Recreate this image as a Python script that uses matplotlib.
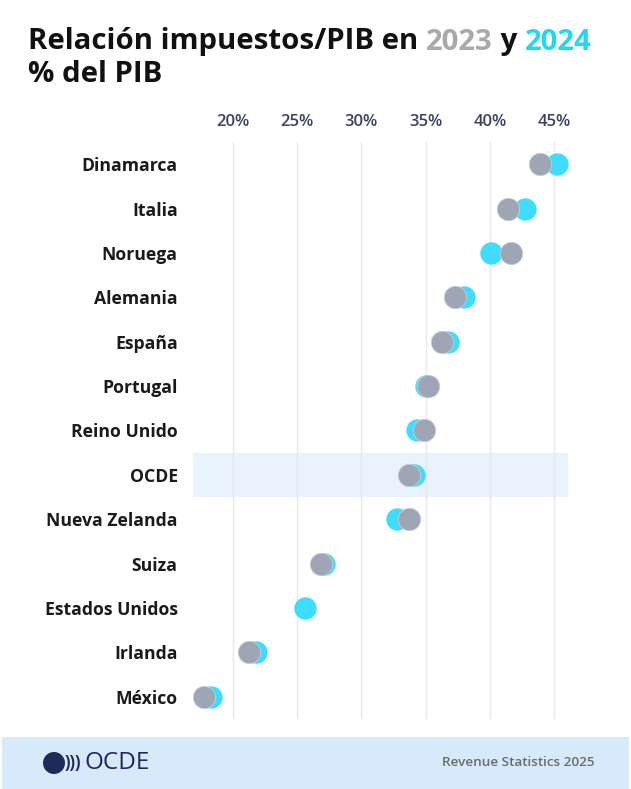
import numpy as np
import matplotlib
matplotlib.use("Agg")
import matplotlib.pyplot as plt
from matplotlib.patches import Ellipse, Rectangle

countries = ["Dinamarca", "Italia", "Noruega", "Alemania", "España", "Portugal",
             "Reino Unido", "OCDE", "Nueva Zelanda", "Suiza", "Estados Unidos",
             "Irlanda", "México"]
val_2023 = [43.9, 41.4, 41.6, 37.3, 36.3, 35.2, 34.9, 33.7, 33.7, 26.9, np.nan, 21.3, 17.8]
val_2024 = [45.2, 42.7, 40.1, 38.0, 36.7, 35.0, 34.3, 34.1, 32.8, 27.1, 25.6, 21.8, 18.3]
ticks = [20, 25, 30, 35, 40, 45]
tick_labels = ["20%", "25%", "30%", "35%", "40%", "45%"]

GREY = "#9ea6b6"
CYAN = "#3edcfd"
W, H = 631, 789

plt.rcParams["font.family"] = ["Open Sans", "DejaVu Sans"]

fig = plt.figure(figsize=(W / 100, H / 100), dpi=100)
fig.patch.set_facecolor("white")

ax = fig.add_axes([193 / W, 1 - 719 / H, (568 - 193) / W, (719 - 142) / H])
ax.set_facecolor("none")
y = np.arange(len(countries))

ax.axhspan(6.5, 7.5, color="#e8f3fd", zorder=0, lw=0)
for t in ticks:
    ax.axvline(t, color="#e6e8ec", lw=1, zorder=1)

ax.scatter(val_2024, y, s=260, color=CYAN, zorder=3, lw=0)
ax.scatter(val_2023, y, s=260, color=GREY, zorder=4, lw=0.6, edgecolors="#c9ced8")

ax.set_xlim(16.92, 46.06)
ax.set_ylim(12.5, -0.5)
ax.xaxis.tick_top()
ax.set_xticks(ticks)
ax.set_xticklabels(tick_labels, fontsize=12, color="#3a4460", fontweight="semibold")
ax.set_yticks(y)
ax.set_yticklabels(countries, fontsize=12.7, fontweight="bold", color="#1a1a1a")
ax.tick_params(axis="x", length=0, pad=9)
ax.tick_params(axis="y", length=0, pad=11)
for s in ax.spines.values():
    s.set_visible(False)

# title with coloured years
fig.canvas.draw()
r = fig.canvas.get_renderer()
x0 = 28 / W
yt = 1 - 42 / H
parts = [("Relación impuestos/PIB en ", "#111111"), ("2023", "#a9a9a9"),
         (" y ", "#111111"), ("2024", "#22d9ec")]
x = x0
for txt, col in parts:
    t = fig.text(x, yt, txt, fontsize=21.2, fontweight="bold", color=col, va="center", ha="left")
    bb = t.get_window_extent(r)
    x += bb.width / W
fig.text(x0, 1 - 75 / H, "% del PIB", fontsize=21.2, fontweight="bold", color="#111111",
         va="center", ha="left")

# footer band
fig.patches.append(Rectangle((2 / W, 0), (W - 4) / W, 52 / H, transform=fig.transFigure,
                             facecolor="#d6eafb", edgecolor="none", zorder=0))
fig.patches.append(Ellipse((54 / W, 1 - 763 / H), 22 / W, 22 / H, transform=fig.transFigure,
                           facecolor="#1e2a5a", edgecolor="none"))
fig.text(65 / W, 1 - 763 / H, ")))", fontsize=12, color="#1e2a5a", va="center", ha="left",
         fontweight="bold")
fig.text(84 / W, 1 - 763 / H, "OCDE", fontsize=17.5, color="#1e2a5a", va="center", ha="left")
fig.text(594 / W, 1 - 763 / H, "Revenue Statistics 2025", fontsize=9.7, color="#6b6b6b",
         va="center", ha="right", fontweight="semibold")

fig.savefig("out.png", dpi=100)
